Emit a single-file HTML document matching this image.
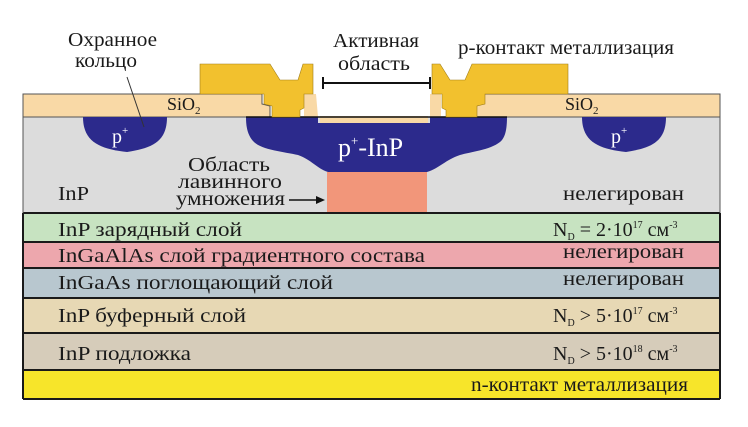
<!DOCTYPE html>
<html><head><meta charset="utf-8"><style>
html,body{margin:0;padding:0;background:#fff;}
svg{display:block;}
text{font-family:"Liberation Serif","DejaVu Serif",serif;fill:#1a1a1a;}
</style></head><body>
<svg width="748" height="427" viewBox="0 0 748 427" xmlns="http://www.w3.org/2000/svg">
<rect x="23" y="116" width="697" height="97" fill="#dcdcdc"/>
<path d="M23,94 L262,94 L262,104 L270,106 L270,117 L23,117 Z" fill="#f9d9a6" stroke="#555" stroke-width="1"/>
<path d="M720,94 L483,94 L483,104 L476,106 L476,117 L720,117 Z" fill="#f9d9a6" stroke="#555" stroke-width="1"/>
<path d="M304,94 L316,94 L318,117 L304,117 Z" fill="#f9d9a6"/>
<path d="M430,94 L441,94 L441,117 L429,117 Z" fill="#f9d9a6"/>
<rect x="318" y="94" width="112" height="23" fill="#fff"/>
<rect x="320" y="116" width="108" height="7" fill="#f9d9a6"/>
<path d="M246,117 L318,117 L318,123 L430,123 L430,117 L507,117 C507,130 505,138 500,142 C490,150 470,152 460,155 C445,160 440,168 427,172 L328,172 C316,168 312,160 298,155 C285,152 262,150 254,142 C248,136 246,128 246,117 Z" fill="#2c2a8c"/>
<line x1="246" y1="117" x2="507" y2="117" stroke="#111" stroke-width="1.5"/>
<path d="M83,117 L167,117 C167,142 152,148 127,152 C100,149 83,142 83,117 Z" fill="#2c2a8c"/>
<path d="M582,117 L666,117 C666,142 651,148 626,152 C599,149 582,142 582,117 Z" fill="#2c2a8c"/>
<rect x="327" y="172" width="100" height="41" fill="#f2967a"/>
<path d="M200,64 L270,64 L280,80 L298,80 L303,64 L313,64 L313,94 L304,94 L304,108 L300,110 L300,117 L272,117 L272,106 L264,104 L264,94 L200,94 Z" fill="#f2c12e" stroke="#a07d18" stroke-width="0.6"/>
<path d="M432,64 L440,64 L450,80 L465,80 L472,64 L568,64 L568,94 L485,94 L485,104 L477,106 L477,117 L446,117 L446,110 L442,108 L442,94 L432,94 Z" fill="#f2c12e" stroke="#a07d18" stroke-width="0.6"/>
<line x1="323" y1="83" x2="430" y2="83" stroke="#111" stroke-width="2"/>
<line x1="323" y1="77" x2="323" y2="89" stroke="#111" stroke-width="2"/>
<line x1="430" y1="77" x2="430" y2="89" stroke="#111" stroke-width="2"/>
<line x1="127" y1="77" x2="144" y2="127" stroke="#333" stroke-width="1"/>
<line x1="289" y1="200" x2="318" y2="200" stroke="#111" stroke-width="1.5"/>
<path d="M325,200 L316,196 L316,204 Z" fill="#111"/>
<rect x="23" y="213" width="697" height="29" fill="#c7e3c1"/>
<rect x="23" y="242" width="697" height="26" fill="#eda7ad"/>
<rect x="23" y="268" width="697" height="30" fill="#b8c7cf"/>
<rect x="23" y="298" width="697" height="35" fill="#e7d8b4"/>
<rect x="23" y="333" width="697" height="37" fill="#d6ccba"/>
<rect x="23" y="370" width="697" height="29" fill="#f7e52a"/>
<g stroke="#1a1a1a" stroke-width="2">
<line x1="23" y1="213" x2="720" y2="213"/>
<line x1="23" y1="242" x2="720" y2="242"/>
<line x1="23" y1="268" x2="720" y2="268"/>
<line x1="23" y1="298" x2="720" y2="298"/>
<line x1="23" y1="333" x2="720" y2="333"/>
<line x1="23" y1="370" x2="720" y2="370"/>
<line x1="23" y1="399" x2="720" y2="399"/>
<line x1="23" y1="213" x2="23" y2="399"/>
<line x1="720" y1="213" x2="720" y2="399"/>
</g>
<line x1="23" y1="94" x2="23" y2="213" stroke="#555" stroke-width="1"/>
<line x1="720" y1="94" x2="720" y2="213" stroke="#555" stroke-width="1"/>
<g font-size="20">
<text x="68" y="46" textLength="89" lengthAdjust="spacingAndGlyphs">Охранное</text>
<text x="75" y="67" textLength="62" lengthAdjust="spacingAndGlyphs">кольцо</text>
<text x="333" y="47" textLength="86" lengthAdjust="spacingAndGlyphs">Активная</text>
<text x="338" y="70" textLength="72" lengthAdjust="spacingAndGlyphs">область</text>
<text x="458" y="54" textLength="216" lengthAdjust="spacingAndGlyphs">p-контакт металлизация</text>
<text x="167" y="110" font-size="18">SiO<tspan font-size="11" dy="4">2</tspan></text>
<text x="565" y="110" font-size="18">SiO<tspan font-size="11" dy="4">2</tspan></text>
<text x="112" y="143" style="fill:#fff" font-size="20">p<tspan font-size="11" dy="-9" style="fill:#fff">+</tspan></text>
<text x="611" y="143" style="fill:#fff" font-size="20">p<tspan font-size="11" dy="-9" style="fill:#fff">+</tspan></text>
<text x="338" y="156" style="fill:#fff" font-size="26">p<tspan font-size="13" dy="-11" style="fill:#fff">+</tspan><tspan dy="11" style="fill:#fff">-InP</tspan></text>
<text x="188" y="171" textLength="82" lengthAdjust="spacingAndGlyphs">Область</text>
<text x="178" y="188" textLength="104" lengthAdjust="spacingAndGlyphs">лавинного</text>
<text x="176" y="205" textLength="109" lengthAdjust="spacingAndGlyphs">умножения</text>
<text x="58" y="200" textLength="31" lengthAdjust="spacingAndGlyphs">InP</text>
<text x="563" y="200" textLength="121" lengthAdjust="spacingAndGlyphs">нелегирован</text>
<text x="58" y="236" textLength="184" lengthAdjust="spacingAndGlyphs">InP зарядный слой</text>
<text x="553" y="236">N<tspan font-size="10" dy="4">D</tspan><tspan dy="-4"> = 2·10</tspan><tspan font-size="10" dy="-8">17</tspan><tspan dy="8"> см</tspan><tspan font-size="10" dy="-8">-3</tspan></text>
<text x="58" y="262" textLength="367" lengthAdjust="spacingAndGlyphs">InGaAlAs слой градиентного состава</text>
<text x="563" y="258" textLength="121" lengthAdjust="spacingAndGlyphs">нелегирован</text>
<text x="58" y="289" textLength="275" lengthAdjust="spacingAndGlyphs">InGaAs поглощающий слой</text>
<text x="563" y="285" textLength="121" lengthAdjust="spacingAndGlyphs">нелегирован</text>
<text x="58" y="322" textLength="188" lengthAdjust="spacingAndGlyphs">InP буферный слой</text>
<text x="553" y="322">N<tspan font-size="10" dy="4">D</tspan><tspan dy="-4"> &gt; 5·10</tspan><tspan font-size="10" dy="-8">17</tspan><tspan dy="8"> см</tspan><tspan font-size="10" dy="-8">-3</tspan></text>
<text x="58" y="360" textLength="133" lengthAdjust="spacingAndGlyphs">InP подложка</text>
<text x="553" y="360">N<tspan font-size="10" dy="4">D</tspan><tspan dy="-4"> &gt; 5·10</tspan><tspan font-size="10" dy="-8">18</tspan><tspan dy="8"> см</tspan><tspan font-size="10" dy="-8">-3</tspan></text>
<text x="471" y="391" textLength="217" lengthAdjust="spacingAndGlyphs">n-контакт металлизация</text>
</g>
</svg>
</body></html>
